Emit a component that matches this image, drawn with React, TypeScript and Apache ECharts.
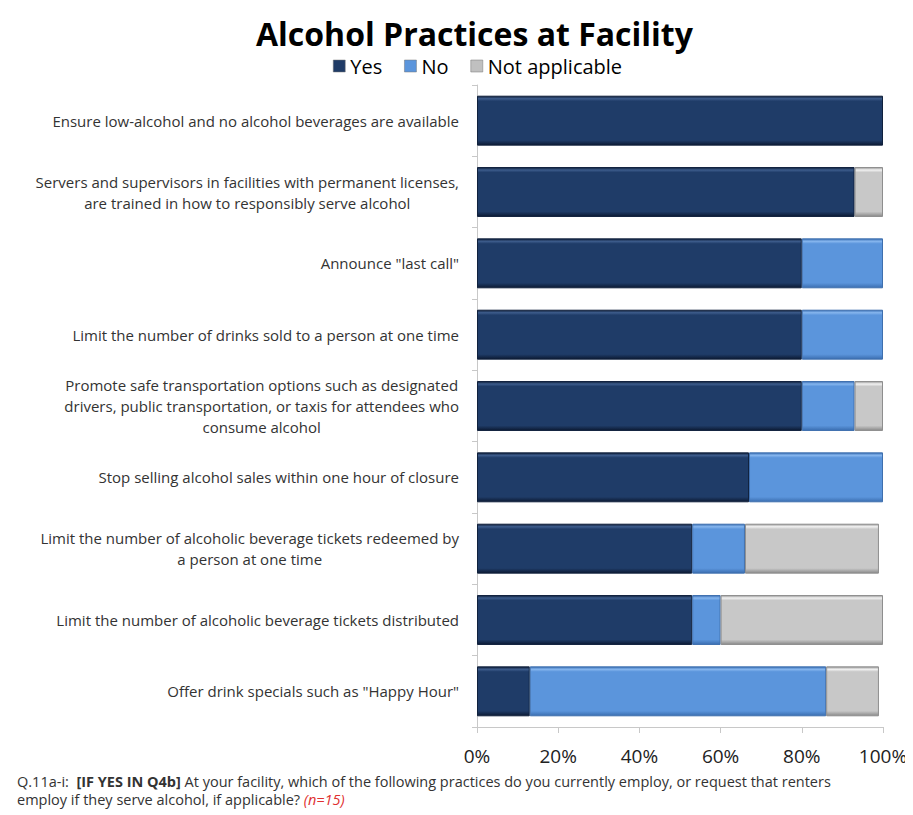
import React, { useEffect, useRef } from "react";
import * as echarts from "echarts";

const categories: string[] = [
  "Ensure low-alcohol and no alcohol beverages are available",
  "Servers and supervisors in facilities with permanent licenses,\nare trained in how to responsibly serve alcohol",
  'Announce "last call"',
  "Limit the number of drinks sold to a person at one time",
  "Promote safe transportation options such as designated\ndrivers, public transportation, or taxis for attendees who\nconsume alcohol",
  "Stop selling alcohol sales within one hour of closure",
  "Limit the number of alcoholic beverage tickets redeemed by\na person at one time",
  "Limit the number of alcoholic beverage tickets distributed",
  'Offer drink specials such as "Happy Hour"',
];

const yesValues: number[] = [100, 93, 80, 80, 80, 67, 53, 53, 13];
const noValues: number[] = [0, 0, 20, 20, 13, 33, 13, 7, 73];
const naValues: number[] = [0, 7, 0, 0, 7, 0, 33, 40, 13];

const seriesNames: string[] = ["Yes", "No", "Not applicable"];
const tickLabels: string[] = ["0%", "20%", "40%", "60%", "80%", "100%"];

const FONT = "'Open Sans', 'Noto Sans', sans-serif";

function grad(edgeTop: string, hi: string, base: string, edgeBottom: string) {
  return new echarts.graphic.LinearGradient(0, 0, 0, 1, [
    { offset: 0, color: edgeTop },
    { offset: 0.05, color: hi },
    { offset: 0.1, color: base },
    { offset: 0.9, color: base },
    { offset: 1, color: edgeBottom },
  ]);
}

export default function App() {
  const ref = useRef<HTMLDivElement>(null);
  useEffect(() => {
    if (!ref.current) return;
    const chart = echarts.init(ref.current, undefined, { renderer: "svg" });
    const styles = [
      { color: grad("#0e1e38", "#3d5c8c", "#1f3c68", "#0c1a33"), border: "#10213d", legend: "#1f3b66" },
      { color: grad("#3a6fb5", "#86b6ee", "#5b95dc", "#3b6eb0"), border: "#3e6fae", legend: "#5b95dc" },
      { color: grad("#9a9a9a", "#f2f2f2", "#c8c8c8", "#8a8a8a"), border: "#8e8e8e", legend: "#c0c0c0" },
    ];
    const vals = [yesValues, noValues, naValues];
    const option: any = {
      animation: false,
      backgroundColor: "#ffffff",
      title: {
        text: "Alcohol Practices at Facility",
        left: 243,
        top: 4,
        textStyle: { fontFamily: FONT, fontSize: 32, fontWeight: "bold", color: "#000000" },
      },
      legend: {
        data: seriesNames.map((n, i) => ({ name: n, itemStyle: { color: styles[i].legend, borderColor: "#777", borderWidth: 0.5 } })),
        top: 43,
        left: 320,
        itemWidth: 12,
        itemHeight: 12,
        itemGap: 22,
        icon: "rect",
        textStyle: { fontFamily: FONT, fontSize: 20, color: "#000000" },
      },
      grid: { left: 469, right: 30, top: 77, bottom: 88, containLabel: false },
      xAxis: {
        type: "value",
        min: 0,
        max: 100,
        interval: 20,
        splitLine: { show: false },
        axisLine: { show: true, lineStyle: { color: "#c8c8c8" } },
        axisTick: { show: true, length: 6, lineStyle: { color: "#c8c8c8" } },
        axisLabel: {
          margin: 19,
          fontFamily: FONT,
          fontSize: 19,
          lineHeight: 20,
          color: "#222222",
          formatter: (v: number) => tickLabels[Math.round(v / 20)],
        },
      },
      yAxis: {
        type: "category",
        inverse: true,
        data: categories,
        axisLine: { show: true, lineStyle: { color: "#c8c8c8" } },
        axisTick: { show: true, length: 5, lineStyle: { color: "#c8c8c8" } },
        axisLabel: {
          margin: 18,
          fontFamily: FONT,
          fontSize: 15,
          lineHeight: 21,
          color: "#333333",
          align: "right",
          formatter: (v: string) =>
            v
              .split("\n")
              .map((l) => `{c|${l}}`)
              .join("\n"),
          rich: { c: { align: "center", fontFamily: FONT, fontSize: 15, lineHeight: 21, color: "#333333" } },
        },
      },
      series: seriesNames.map((name, i) => ({
        name,
        type: "bar",
        stack: "total",
        barCategoryGap: "30%",
        data: vals[i].map((v) => (v === 0 ? "-" : v)),
        itemStyle: { color: styles[i].color, borderColor: styles[i].border, borderWidth: 1 },
      })),
      graphic: [
        {
          type: "text",
          left: 9,
          top: 764,
          style: {
            text:
              "Q.11a-i:  {b|[IF YES IN Q4b]} At your facility, which of the following practices do you currently employ, or request that renters\nemploy if they serve alcohol, if applicable? {r|(n=15)}",
            fontFamily: FONT,
            fontSize: 14.5,
            lineHeight: 18,
            fill: "#333333",
            rich: {
              b: { fontWeight: "bold", fontFamily: FONT, fontSize: 14.5, lineHeight: 18, fill: "#333333" },
              r: { fontStyle: "italic", fontFamily: FONT, fontSize: 14.5, lineHeight: 18, fill: "#e03030" },
            },
          },
        },
      ],
    };
    chart.setOption(option);
    return () => chart.dispose();
  }, []);
  return <div ref={ref} style={{ width: 905, height: 807 }} />;
}
